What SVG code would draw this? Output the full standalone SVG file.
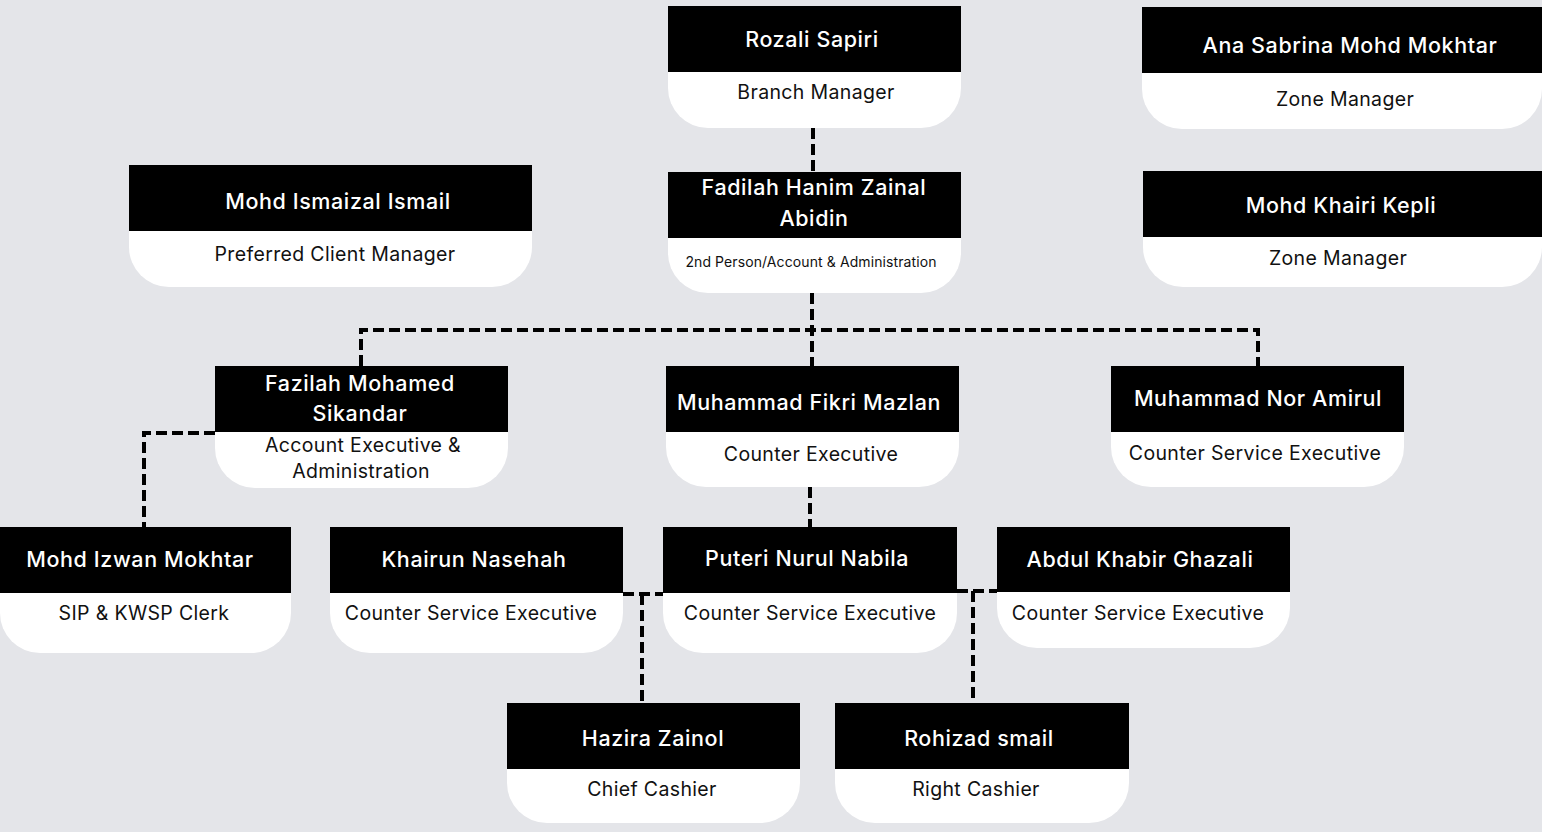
<svg xmlns="http://www.w3.org/2000/svg" width="1542" height="832" viewBox="0 0 1542 832">
<style>
.bg{fill:#e4e5e9}
.card{fill:#ffffff}
.head{fill:#000000}
.name{font-family:Inter,"Noto Sans","Liberation Sans",sans-serif;font-size:21.5px;font-weight:500;letter-spacing:0.6px;fill:#ffffff;text-anchor:middle}
.role{font-family:Inter,"Noto Sans","Liberation Sans",sans-serif;font-size:19.5px;font-weight:400;letter-spacing:0.35px;fill:#111111;text-anchor:middle}
.small{font-family:Inter,"Noto Sans","Liberation Sans",sans-serif;font-size:14px;font-weight:400;letter-spacing:0.1px;fill:#111111;text-anchor:middle}
.conn{fill:none;stroke:#000000;stroke-width:4;stroke-dasharray:11 5}
</style>
<rect class="bg" x="0" y="0" width="1542" height="832"/>
<g id="connectors">
<path class="conn" d="M813 128 V172"/>
<path class="conn" d="M812 293 V366"/>
<path class="conn" d="M361 366 V330 H1258 V366"/>
<path class="conn" d="M215 433 H144 V527"/>
<path class="conn" d="M810 487 V527"/>
<path class="conn" d="M623 594 H663"/>
<path class="conn" d="M642 594 V703"/>
<path class="conn" d="M957 591 H997"/>
<path class="conn" d="M973 591 V703"/>
</g>
<g id="rozali">
<path class="card" d="M668 6 H961 V88 A40 40 0 0 1 921 128 H708 A40 40 0 0 1 668 88 Z"/>
<rect class="head" x="668" y="6" width="293" height="66"/>
<text class="name" x="812" y="47">Rozali Sapiri</text>
<text class="role" x="816" y="99">Branch Manager</text>
</g>
<g id="ana">
<path class="card" d="M1142 7 H1542 V89 A40 40 0 0 1 1502 129 H1182 A40 40 0 0 1 1142 89 Z"/>
<rect class="head" x="1142" y="7" width="400" height="66"/>
<text class="name" x="1350" y="53">Ana Sabrina Mohd Mokhtar</text>
<text class="role" x="1345" y="106">Zone Manager</text>
</g>
<g id="khairi">
<path class="card" d="M1143 171 H1542 V247 A40 40 0 0 1 1502 287 H1183 A40 40 0 0 1 1143 247 Z"/>
<rect class="head" x="1143" y="171" width="399" height="66"/>
<text class="name" x="1341" y="213">Mohd Khairi Kepli</text>
<text class="role" x="1338" y="265">Zone Manager</text>
</g>
<g id="ismaizal">
<path class="card" d="M129 165 H532 V247 A40 40 0 0 1 492 287 H169 A40 40 0 0 1 129 247 Z"/>
<rect class="head" x="129" y="165" width="403" height="66"/>
<text class="name" x="338" y="209">Mohd Ismaizal Ismail</text>
<text class="role" x="335" y="261">Preferred Client Manager</text>
</g>
<g id="fadilah">
<path class="card" d="M668 172 H961 V253 A40 40 0 0 1 921 293 H708 A40 40 0 0 1 668 253 Z"/>
<rect class="head" x="668" y="172" width="293" height="66"/>
<text class="name" x="814" y="195">Fadilah Hanim Zainal</text>
<text class="name" x="814" y="226">Abidin</text>
<text class="small" x="811" y="267">2nd Person/Account &amp; Administration</text>
</g>
<g id="fazilah">
<path class="card" d="M215 366 H508 V448 A40 40 0 0 1 468 488 H255 A40 40 0 0 1 215 448 Z"/>
<rect class="head" x="215" y="366" width="293" height="66"/>
<text class="name" x="360" y="391">Fazilah Mohamed</text>
<text class="name" x="360" y="421">Sikandar</text>
<text class="role" x="363" y="452">Account Executive &amp;</text>
<text class="role" x="361" y="478">Administration</text>
</g>
<g id="fikri">
<path class="card" d="M666 366 H959 V447 A40 40 0 0 1 919 487 H706 A40 40 0 0 1 666 447 Z"/>
<rect class="head" x="666" y="366" width="293" height="66"/>
<text class="name" x="809" y="410">Muhammad Fikri Mazlan</text>
<text class="role" x="811" y="461">Counter Executive</text>
</g>
<g id="amirul">
<path class="card" d="M1111 366 H1404 V447 A40 40 0 0 1 1364 487 H1151 A40 40 0 0 1 1111 447 Z"/>
<rect class="head" x="1111" y="366" width="293" height="66"/>
<text class="name" x="1258" y="406">Muhammad Nor Amirul</text>
<text class="role" x="1255" y="460">Counter Service Executive</text>
</g>
<g id="izwan">
<path class="card" d="M0 527 H291 V613 A40 40 0 0 1 251 653 H40 A40 40 0 0 1 0 613 Z"/>
<rect class="head" x="0" y="527" width="291" height="66"/>
<text class="name" x="140" y="567">Mohd Izwan Mokhtar</text>
<text class="role" x="144" y="620">SIP &amp; KWSP Clerk</text>
</g>
<g id="khairun">
<path class="card" d="M330 527 H623 V613 A40 40 0 0 1 583 653 H370 A40 40 0 0 1 330 613 Z"/>
<rect class="head" x="330" y="527" width="293" height="66"/>
<text class="name" x="474" y="567">Khairun Nasehah</text>
<text class="role" x="471" y="620">Counter Service Executive</text>
</g>
<g id="puteri">
<path class="card" d="M663 527 H957 V613 A40 40 0 0 1 917 653 H703 A40 40 0 0 1 663 613 Z"/>
<rect class="head" x="663" y="527" width="294" height="66"/>
<text class="name" x="807" y="566">Puteri Nurul Nabila</text>
<text class="role" x="810" y="620">Counter Service Executive</text>
</g>
<g id="abdul">
<path class="card" d="M997 527 H1290 V608 A40 40 0 0 1 1250 648 H1037 A40 40 0 0 1 997 608 Z"/>
<rect class="head" x="997" y="527" width="293" height="65"/>
<text class="name" x="1140" y="567">Abdul Khabir Ghazali</text>
<text class="role" x="1138" y="620">Counter Service Executive</text>
</g>
<g id="hazira">
<path class="card" d="M507 703 H800 V783 A40 40 0 0 1 760 823 H547 A40 40 0 0 1 507 783 Z"/>
<rect class="head" x="507" y="703" width="293" height="66"/>
<text class="name" x="653" y="746">Hazira Zainol</text>
<text class="role" x="652" y="796">Chief Cashier</text>
</g>
<g id="rohizad">
<path class="card" d="M835 703 H1129 V783 A40 40 0 0 1 1089 823 H875 A40 40 0 0 1 835 783 Z"/>
<rect class="head" x="835" y="703" width="294" height="66"/>
<text class="name" x="979" y="746">Rohizad smail</text>
<text class="role" x="976" y="796">Right Cashier</text>
</g>
</svg>
